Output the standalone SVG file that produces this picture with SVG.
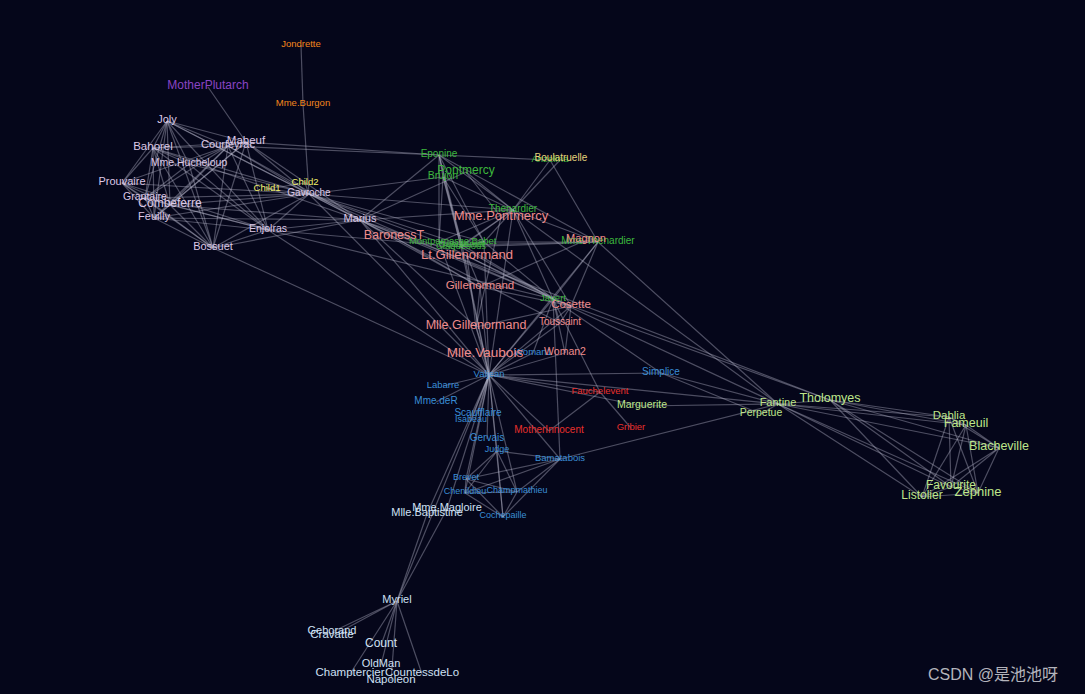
<svg xmlns="http://www.w3.org/2000/svg" width="1085" height="694" viewBox="0 0 1085 694">
<style>
.e{stroke:#b8b8cc;stroke-opacity:0.4;stroke-width:1.2}
text{font-family:"Liberation Sans",Arial,sans-serif;text-anchor:middle;dominant-baseline:central}
.g0{fill:#e8302c}.g1{fill:#cfe0f4}.g2{fill:#3a8ed6}.g3{fill:#bfe68a}.g4{fill:#3db83d}.g5{fill:#f08c8c}.g6{fill:#e6d27a}.g7{fill:#f4861c}.g8{fill:#dcc8e6}.g9{fill:#8a44c4}.g10{fill:#f2f26a}
</style>
<rect width="1085" height="694" fill="#05061a"/>
<g id="connectors" class="e">
<line x1="391" y1="681" x2="397" y2="601"/><line x1="427" y1="514" x2="397" y2="601"/><line x1="447" y1="509" x2="397" y2="601"/><line x1="447" y1="509" x2="427" y2="514"/><line x1="422" y1="674" x2="397" y2="601"/><line x1="332" y1="632" x2="397" y2="601"/><line x1="350" y1="674" x2="397" y2="601"/><line x1="332" y1="636" x2="397" y2="601"/><line x1="381" y1="645" x2="397" y2="601"/><line x1="381" y1="665" x2="397" y2="601"/>
<line x1="489" y1="375" x2="443" y2="386"/><line x1="489" y1="375" x2="447" y2="509"/><line x1="489" y1="375" x2="427" y2="514"/><line x1="489" y1="375" x2="397" y2="601"/><line x1="642" y1="406" x2="489" y2="375"/><line x1="436" y1="402" x2="489" y2="375"/><line x1="471" y1="421" x2="489" y2="375"/><line x1="487" y1="439" x2="489" y2="375"/>
<line x1="922" y1="497" x2="830" y2="400"/><line x1="966" y1="425" x2="830" y2="400"/><line x1="966" y1="425" x2="922" y2="497"/><line x1="999" y1="448" x2="830" y2="400"/><line x1="999" y1="448" x2="922" y2="497"/><line x1="999" y1="448" x2="966" y2="425"/><line x1="951" y1="487" x2="830" y2="400"/><line x1="951" y1="487" x2="922" y2="497"/><line x1="951" y1="487" x2="966" y2="425"/><line x1="951" y1="487" x2="999" y2="448"/><line x1="949" y1="417" x2="830" y2="400"/><line x1="949" y1="417" x2="922" y2="497"/><line x1="949" y1="417" x2="966" y2="425"/><line x1="949" y1="417" x2="999" y2="448"/><line x1="949" y1="417" x2="951" y2="487"/><line x1="978" y1="493" x2="830" y2="400"/><line x1="978" y1="493" x2="922" y2="497"/><line x1="978" y1="493" x2="966" y2="425"/><line x1="978" y1="493" x2="999" y2="448"/><line x1="978" y1="493" x2="951" y2="487"/><line x1="978" y1="493" x2="949" y2="417"/>
<line x1="778" y1="404" x2="830" y2="400"/><line x1="778" y1="404" x2="922" y2="497"/><line x1="778" y1="404" x2="966" y2="425"/><line x1="778" y1="404" x2="999" y2="448"/><line x1="778" y1="404" x2="951" y2="487"/><line x1="778" y1="404" x2="949" y2="417"/><line x1="778" y1="404" x2="978" y2="493"/><line x1="778" y1="404" x2="642" y2="406"/><line x1="778" y1="404" x2="489" y2="375"/>
<line x1="598" y1="242" x2="778" y2="404"/><line x1="598" y1="242" x2="489" y2="375"/><line x1="513" y1="210" x2="598" y2="242"/><line x1="513" y1="210" x2="778" y2="404"/><line x1="513" y1="210" x2="489" y2="375"/><line x1="571" y1="306" x2="598" y2="242"/><line x1="571" y1="306" x2="489" y2="375"/><line x1="571" y1="306" x2="830" y2="400"/><line x1="571" y1="306" x2="513" y2="210"/>
<line x1="553" y1="299" x2="489" y2="375"/><line x1="553" y1="299" x2="778" y2="404"/><line x1="553" y1="299" x2="513" y2="210"/><line x1="553" y1="299" x2="598" y2="242"/><line x1="553" y1="299" x2="571" y2="306"/><line x1="600" y1="392" x2="489" y2="375"/><line x1="600" y1="392" x2="553" y2="299"/><line x1="560" y1="459" x2="778" y2="404"/><line x1="560" y1="459" x2="553" y2="299"/><line x1="560" y1="459" x2="489" y2="375"/><line x1="761" y1="414" x2="778" y2="404"/><line x1="661" y1="373" x2="761" y2="414"/><line x1="661" y1="373" x2="489" y2="375"/><line x1="661" y1="373" x2="778" y2="404"/><line x1="661" y1="373" x2="553" y2="299"/><line x1="478" y1="414" x2="489" y2="375"/><line x1="533" y1="353" x2="489" y2="375"/><line x1="533" y1="353" x2="553" y2="299"/>
<line x1="497" y1="451" x2="489" y2="375"/><line x1="497" y1="451" x2="560" y2="459"/><line x1="517" y1="492" x2="489" y2="375"/><line x1="517" y1="492" x2="497" y2="451"/><line x1="517" y1="492" x2="560" y2="459"/><line x1="466" y1="479" x2="497" y2="451"/><line x1="466" y1="479" x2="517" y2="492"/><line x1="466" y1="479" x2="489" y2="375"/><line x1="466" y1="479" x2="560" y2="459"/><line x1="465" y1="493" x2="497" y2="451"/><line x1="465" y1="493" x2="517" y2="492"/><line x1="465" y1="493" x2="466" y2="479"/><line x1="465" y1="493" x2="489" y2="375"/><line x1="465" y1="493" x2="560" y2="459"/><line x1="503" y1="517" x2="497" y2="451"/><line x1="503" y1="517" x2="517" y2="492"/><line x1="503" y1="517" x2="466" y2="479"/><line x1="503" y1="517" x2="465" y2="493"/><line x1="503" y1="517" x2="489" y2="375"/><line x1="503" y1="517" x2="560" y2="459"/>
<line x1="466" y1="172" x2="513" y2="210"/><line x1="561" y1="159" x2="513" y2="210"/><line x1="439" y1="155" x2="598" y2="242"/><line x1="439" y1="155" x2="513" y2="210"/><line x1="550" y1="160" x2="439" y2="155"/><line x1="550" y1="160" x2="513" y2="210"/><line x1="550" y1="160" x2="598" y2="242"/>
<line x1="565" y1="353" x2="489" y2="375"/><line x1="565" y1="353" x2="571" y2="306"/><line x1="565" y1="353" x2="553" y2="299"/><line x1="549" y1="431" x2="600" y2="392"/><line x1="549" y1="431" x2="489" y2="375"/><line x1="631" y1="428" x2="600" y2="392"/>
<line x1="303" y1="104" x2="301" y2="45"/><line x1="309" y1="194" x2="303" y2="104"/><line x1="309" y1="194" x2="513" y2="210"/><line x1="309" y1="194" x2="553" y2="299"/><line x1="309" y1="194" x2="489" y2="375"/>
<line x1="480" y1="287" x2="571" y2="306"/><line x1="480" y1="287" x2="489" y2="375"/><line x1="586" y1="240" x2="480" y2="287"/><line x1="586" y1="240" x2="598" y2="242"/><line x1="476" y1="327" x2="480" y2="287"/><line x1="476" y1="327" x2="571" y2="306"/><line x1="476" y1="327" x2="489" y2="375"/><line x1="501" y1="217" x2="476" y2="327"/><line x1="501" y1="217" x2="466" y2="172"/><line x1="485" y1="354" x2="476" y2="327"/><line x1="467" y1="256" x2="476" y2="327"/><line x1="467" y1="256" x2="480" y2="287"/><line x1="467" y1="256" x2="571" y2="306"/>
<line x1="360" y1="220" x2="476" y2="327"/><line x1="360" y1="220" x2="480" y2="287"/><line x1="360" y1="220" x2="466" y2="172"/><line x1="360" y1="220" x2="467" y2="256"/><line x1="360" y1="220" x2="571" y2="306"/><line x1="360" y1="220" x2="489" y2="375"/><line x1="360" y1="220" x2="830" y2="400"/><line x1="360" y1="220" x2="513" y2="210"/><line x1="360" y1="220" x2="439" y2="155"/><line x1="360" y1="220" x2="309" y2="194"/><line x1="394" y1="237" x2="480" y2="287"/><line x1="394" y1="237" x2="360" y2="220"/>
<line x1="246" y1="142" x2="360" y2="220"/><line x1="246" y1="142" x2="439" y2="155"/><line x1="246" y1="142" x2="309" y2="194"/><line x1="268" y1="230" x2="360" y2="220"/><line x1="268" y1="230" x2="309" y2="194"/><line x1="268" y1="230" x2="553" y2="299"/><line x1="268" y1="230" x2="246" y2="142"/><line x1="268" y1="230" x2="489" y2="375"/>
<line x1="170" y1="205" x2="268" y2="230"/><line x1="170" y1="205" x2="360" y2="220"/><line x1="170" y1="205" x2="309" y2="194"/><line x1="170" y1="205" x2="246" y2="142"/><line x1="122" y1="183" x2="309" y2="194"/><line x1="122" y1="183" x2="268" y2="230"/><line x1="122" y1="183" x2="170" y2="205"/><line x1="154" y1="218" x2="309" y2="194"/><line x1="154" y1="218" x2="268" y2="230"/><line x1="154" y1="218" x2="122" y2="183"/><line x1="154" y1="218" x2="170" y2="205"/><line x1="154" y1="218" x2="246" y2="142"/><line x1="154" y1="218" x2="360" y2="220"/>
<line x1="228" y1="146" x2="360" y2="220"/><line x1="228" y1="146" x2="268" y2="230"/><line x1="228" y1="146" x2="170" y2="205"/><line x1="228" y1="146" x2="309" y2="194"/><line x1="228" y1="146" x2="246" y2="142"/><line x1="228" y1="146" x2="439" y2="155"/><line x1="228" y1="146" x2="154" y2="218"/><line x1="228" y1="146" x2="122" y2="183"/>
<line x1="153" y1="148" x2="170" y2="205"/><line x1="153" y1="148" x2="309" y2="194"/><line x1="153" y1="148" x2="228" y2="146"/><line x1="153" y1="148" x2="246" y2="142"/><line x1="153" y1="148" x2="268" y2="230"/><line x1="153" y1="148" x2="154" y2="218"/><line x1="153" y1="148" x2="122" y2="183"/><line x1="153" y1="148" x2="360" y2="220"/>
<line x1="213" y1="248" x2="360" y2="220"/><line x1="213" y1="248" x2="228" y2="146"/><line x1="213" y1="248" x2="309" y2="194"/><line x1="213" y1="248" x2="153" y2="148"/><line x1="213" y1="248" x2="268" y2="230"/><line x1="213" y1="248" x2="154" y2="218"/><line x1="213" y1="248" x2="122" y2="183"/><line x1="213" y1="248" x2="170" y2="205"/><line x1="213" y1="248" x2="246" y2="142"/><line x1="213" y1="248" x2="489" y2="375"/>
<line x1="167" y1="121" x2="153" y2="148"/><line x1="167" y1="121" x2="213" y2="248"/><line x1="167" y1="121" x2="309" y2="194"/><line x1="167" y1="121" x2="228" y2="146"/><line x1="167" y1="121" x2="268" y2="230"/><line x1="167" y1="121" x2="154" y2="218"/><line x1="167" y1="121" x2="122" y2="183"/><line x1="167" y1="121" x2="170" y2="205"/><line x1="167" y1="121" x2="246" y2="142"/><line x1="167" y1="121" x2="360" y2="220"/>
<line x1="145" y1="198" x2="213" y2="248"/><line x1="145" y1="198" x2="268" y2="230"/><line x1="145" y1="198" x2="170" y2="205"/><line x1="145" y1="198" x2="228" y2="146"/><line x1="145" y1="198" x2="167" y2="121"/><line x1="145" y1="198" x2="309" y2="194"/><line x1="145" y1="198" x2="153" y2="148"/><line x1="145" y1="198" x2="154" y2="218"/><line x1="145" y1="198" x2="122" y2="183"/>
<line x1="208" y1="87" x2="246" y2="142"/>
<line x1="462" y1="245" x2="513" y2="210"/><line x1="462" y1="245" x2="489" y2="375"/><line x1="462" y1="245" x2="598" y2="242"/><line x1="462" y1="245" x2="553" y2="299"/><line x1="462" y1="245" x2="309" y2="194"/><line x1="462" y1="245" x2="439" y2="155"/>
<line x1="484" y1="242" x2="513" y2="210"/><line x1="484" y1="242" x2="462" y2="245"/><line x1="484" y1="242" x2="489" y2="375"/><line x1="484" y1="242" x2="598" y2="242"/><line x1="484" y1="242" x2="553" y2="299"/><line x1="484" y1="242" x2="309" y2="194"/><line x1="484" y1="242" x2="439" y2="155"/>
<line x1="461" y1="247" x2="513" y2="210"/><line x1="461" y1="247" x2="484" y2="242"/><line x1="461" y1="247" x2="462" y2="245"/><line x1="461" y1="247" x2="489" y2="375"/><line x1="461" y1="247" x2="598" y2="242"/><line x1="461" y1="247" x2="553" y2="299"/><line x1="461" y1="247" x2="439" y2="155"/><line x1="461" y1="247" x2="268" y2="230"/>
<line x1="439" y1="242" x2="553" y2="299"/><line x1="439" y1="242" x2="484" y2="242"/><line x1="439" y1="242" x2="462" y2="245"/><line x1="439" y1="242" x2="461" y2="247"/><line x1="439" y1="242" x2="489" y2="375"/><line x1="439" y1="242" x2="309" y2="194"/><line x1="439" y1="242" x2="439" y2="155"/><line x1="439" y1="242" x2="513" y2="210"/>
<line x1="560" y1="323" x2="571" y2="306"/><line x1="560" y1="323" x2="553" y2="299"/><line x1="560" y1="323" x2="360" y2="220"/><line x1="560" y1="323" x2="489" y2="375"/>
<line x1="267" y1="189" x2="309" y2="194"/><line x1="305" y1="183" x2="309" y2="194"/><line x1="305" y1="183" x2="267" y2="189"/>
<line x1="443" y1="177" x2="484" y2="242"/><line x1="443" y1="177" x2="462" y2="245"/><line x1="443" y1="177" x2="513" y2="210"/><line x1="443" y1="177" x2="309" y2="194"/><line x1="443" y1="177" x2="439" y2="155"/><line x1="443" y1="177" x2="461" y2="247"/><line x1="443" y1="177" x2="439" y2="242"/>
<line x1="189" y1="164" x2="213" y2="248"/><line x1="189" y1="164" x2="167" y2="121"/><line x1="189" y1="164" x2="145" y2="198"/><line x1="189" y1="164" x2="153" y2="148"/><line x1="189" y1="164" x2="228" y2="146"/><line x1="189" y1="164" x2="309" y2="194"/><line x1="189" y1="164" x2="268" y2="230"/>
</g>
<g id="n-Myriel"><text class="g1" x="397" y="599" font-size="11">Myriel</text></g>
<g id="n-Napoleon"><text class="g1" x="391" y="679" font-size="11.5">Napoleon</text></g>
<g id="n-MlleBaptistine"><text class="g1" x="427" y="512" font-size="11">Mlle.Baptistine</text></g>
<g id="n-MmeMagloire"><text class="g1" x="447" y="507" font-size="11">Mme.Magloire</text></g>
<g id="n-CountessdeLo"><text class="g1" x="422" y="672" font-size="11.5">CountessdeLo</text></g>
<g id="n-Geborand"><text class="g1" x="332" y="630" font-size="11">Geborand</text></g>
<g id="n-Champtercier"><text class="g1" x="350" y="672" font-size="11.5">Champtercier</text></g>
<g id="n-Cravatte"><text class="g1" x="332" y="634" font-size="11.5">Cravatte</text></g>
<g id="n-Count"><text class="g1" x="381" y="643" font-size="12">Count</text></g>
<g id="n-OldMan"><text class="g1" x="381" y="663" font-size="11">OldMan</text></g>
<g id="n-Labarre"><text class="g2" x="443" y="384" font-size="9.5">Labarre</text></g>
<g id="n-Valjean"><text class="g2" x="489" y="373" font-size="9.5">Valjean</text></g>
<g id="n-Marguerite"><text class="g3" x="642" y="404" font-size="10.5">Marguerite</text></g>
<g id="n-MmedeR"><text class="g2" x="436" y="400" font-size="10">Mme.deR</text></g>
<g id="n-Isabeau"><text class="g2" x="471" y="419" font-size="9">Isabeau</text></g>
<g id="n-Gervais"><text class="g2" x="487" y="437" font-size="10">Gervais</text></g>
<g id="n-Tholomyes"><text class="g3" x="830" y="398" font-size="12.5">Tholomyes</text></g>
<g id="n-Listolier"><text class="g3" x="922" y="495" font-size="12">Listolier</text></g>
<g id="n-Fameuil"><text class="g3" x="966" y="423" font-size="12.5">Fameuil</text></g>
<g id="n-Blacheville"><text class="g3" x="999" y="446" font-size="12.5">Blacheville</text></g>
<g id="n-Favourite"><text class="g3" x="951" y="485" font-size="12">Favourite</text></g>
<g id="n-Dahlia"><text class="g3" x="949" y="415" font-size="11.5">Dahlia</text></g>
<g id="n-Zephine"><text class="g3" x="978" y="491" font-size="13">Zephine</text></g>
<g id="n-Fantine"><text class="g3" x="778" y="402" font-size="11">Fantine</text></g>
<g id="n-MmeThenardier"><text class="g4" x="598" y="240" font-size="10">Mme.Thenardier</text></g>
<g id="n-Thenardier"><text class="g4" x="513" y="208" font-size="10">Thenardier</text></g>
<g id="n-Cosette"><text class="g5" x="571" y="304" font-size="11.5">Cosette</text></g>
<g id="n-Javert"><text class="g4" x="553" y="297" font-size="9.5">Javert</text></g>
<g id="n-Fauchelevent"><text class="g0" x="600" y="390" font-size="9.5">Fauchelevent</text></g>
<g id="n-Bamatabois"><text class="g2" x="560" y="457" font-size="9.5">Bamatabois</text></g>
<g id="n-Perpetue"><text class="g3" x="761" y="412" font-size="10.5">Perpetue</text></g>
<g id="n-Simplice"><text class="g2" x="661" y="371" font-size="10">Simplice</text></g>
<g id="n-Scaufflaire"><text class="g2" x="478" y="412" font-size="10">Scaufflaire</text></g>
<g id="n-Woman1"><text class="g2" x="533" y="351" font-size="9.5">Woman1</text></g>
<g id="n-Judge"><text class="g2" x="497" y="449" font-size="9">Judge</text></g>
<g id="n-Champmathieu"><text class="g2" x="517" y="490" font-size="9">Champmathieu</text></g>
<g id="n-Brevet"><text class="g2" x="466" y="477" font-size="9">Brevet</text></g>
<g id="n-Chenildieu"><text class="g2" x="465" y="491" font-size="9">Chenildieu</text></g>
<g id="n-Cochepaille"><text class="g2" x="503" y="515" font-size="9">Cochepaille</text></g>
<g id="n-Pontmercy"><text class="g4" x="466" y="170" font-size="12">Pontmercy</text></g>
<g id="n-Anzelma"><text class="g4" x="550" y="158" font-size="9.5">Anzelma</text></g>
<g id="n-Boulatruelle"><text class="g6" x="561" y="157" font-size="10">Boulatruelle</text></g>
<g id="n-Eponine"><text class="g4" x="439" y="153" font-size="10">Eponine</text></g>
<g id="n-Woman2"><text class="g5" x="565" y="351" font-size="10.5">Woman2</text></g>
<g id="n-MotherInnocent"><text class="g0" x="549" y="429" font-size="10">MotherInnocent</text></g>
<g id="n-Gribier"><text class="g0" x="631" y="426" font-size="9.5">Gribier</text></g>
<g id="n-Jondrette"><text class="g7" x="301" y="43" font-size="9.5">Jondrette</text></g>
<g id="n-MmeBurgon"><text class="g7" x="303" y="102" font-size="9.5">Mme.Burgon</text></g>
<g id="n-Gavroche"><text class="g8" x="309" y="192" font-size="10">Gavroche</text></g>
<g id="n-Gillenormand"><text class="g5" x="480" y="285" font-size="11.5">Gillenormand</text></g>
<g id="n-Magnon"><text class="g5" x="586" y="238" font-size="11">Magnon</text></g>
<g id="n-MlleGillenormand"><text class="g5" x="476" y="325" font-size="12.5">Mlle.Gillenormand</text></g>
<g id="n-MmePontmercy"><text class="g5" x="501" y="215" font-size="13">Mme.Pontmercy</text></g>
<g id="n-MlleVaubois"><text class="g5" x="485" y="352" font-size="13.5">Mlle.Vaubois</text></g>
<g id="n-LtGillenormand"><text class="g5" x="467" y="254" font-size="13">Lt.Gillenormand</text></g>
<g id="n-Marius"><text class="g8" x="360" y="218" font-size="11">Marius</text></g>
<g id="n-BaronessT"><text class="g5" x="394" y="235" font-size="12.5">BaronessT</text></g>
<g id="n-Mabeuf"><text class="g8" x="246" y="140" font-size="11.5">Mabeuf</text></g>
<g id="n-Enjolras"><text class="g8" x="268" y="228" font-size="10.5">Enjolras</text></g>
<g id="n-Combeferre"><text class="g8" x="170" y="203" font-size="12">Combeferre</text></g>
<g id="n-Prouvaire"><text class="g8" x="122" y="181" font-size="11">Prouvaire</text></g>
<g id="n-Feuilly"><text class="g8" x="154" y="216" font-size="11">Feuilly</text></g>
<g id="n-Courfeyrac"><text class="g8" x="228" y="144" font-size="11">Courfeyrac</text></g>
<g id="n-Bahorel"><text class="g8" x="153" y="146" font-size="11.5">Bahorel</text></g>
<g id="n-Bossuet"><text class="g8" x="213" y="246" font-size="11">Bossuet</text></g>
<g id="n-Joly"><text class="g8" x="167" y="119" font-size="11">Joly</text></g>
<g id="n-Grantaire"><text class="g8" x="145" y="196" font-size="10.5">Grantaire</text></g>
<g id="n-MotherPlutarch"><text class="g9" x="208" y="85" font-size="12">MotherPlutarch</text></g>
<g id="n-Gueulemer"><text class="g4" x="462" y="243" font-size="9.5">Gueulemer</text></g>
<g id="n-Babet"><text class="g4" x="484" y="240" font-size="9.5">Babet</text></g>
<g id="n-Claquesous"><text class="g4" x="461" y="245" font-size="9.5">Claquesous</text></g>
<g id="n-Montparnasse"><text class="g4" x="439" y="240" font-size="9.5">Montparnasse</text></g>
<g id="n-Toussaint"><text class="g5" x="560" y="321" font-size="10">Toussaint</text></g>
<g id="n-Child1"><text class="g10" x="267" y="187" font-size="9.5">Child1</text></g>
<g id="n-Child2"><text class="g10" x="305" y="181" font-size="9.5">Child2</text></g>
<g id="n-Brujon"><text class="g4" x="443" y="175" font-size="10.5">Brujon</text></g>
<g id="n-MmeHucheloup"><text class="g8" x="189" y="162" font-size="10.5">Mme.Hucheloup</text></g>
<text x="993" y="674" font-size="16" fill="#b4b4bc" style="font-family:'Liberation Sans','Noto Sans CJK SC',sans-serif">CSDN @是池池呀</text>
</svg>
